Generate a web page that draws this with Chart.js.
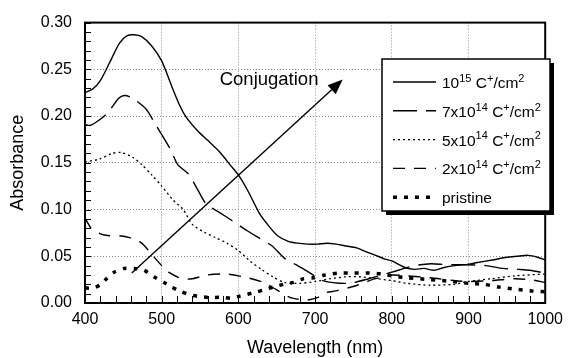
<!DOCTYPE html>
<html>
<head>
<meta charset="utf-8">
<script src="https://cdn.jsdelivr.net/npm/chart.js@4.4.1/dist/chart.umd.min.js"></script>
<style>
  html, body { margin: 0; padding: 0; background: #fff; }
</style>
</head>
<body>
<canvas id="absChart" width="570" height="358"></canvas>
<script>
// absorbance spectra, values
var wl15 = [400, 410, 420, 432, 445, 455, 464, 474, 487, 500, 513, 522, 531, 547, 560, 575, 590, 600, 613, 628, 640, 651, 665, 677, 690, 703, 715, 728, 740, 754, 766, 779, 791, 800, 817, 830, 842, 855, 868, 882, 897, 910, 931, 950, 963, 978, 990, 1000];
var abs15 = [0.225, 0.229, 0.238, 0.257, 0.278, 0.286, 0.287, 0.285, 0.275, 0.259, 0.232, 0.214, 0.200, 0.184, 0.174, 0.162, 0.147, 0.137, 0.119, 0.095, 0.082, 0.072, 0.066, 0.064, 0.063, 0.063, 0.064, 0.063, 0.061, 0.059, 0.055, 0.051, 0.047, 0.045, 0.038, 0.036, 0.037, 0.035, 0.038, 0.040, 0.041, 0.043, 0.046, 0.049, 0.050, 0.051, 0.049, 0.046];

var wl7 = [400, 407, 419, 430, 444, 451, 460, 479, 492, 511, 521, 535, 541, 547, 558, 575, 592, 612, 628, 644, 660, 675, 688, 710, 743, 770, 800, 830, 851, 872, 897, 923, 945, 965, 980, 1000];
var abs7 = [0.191, 0.190, 0.196, 0.204, 0.219, 0.222, 0.220, 0.208, 0.191, 0.165, 0.148, 0.138, 0.130, 0.121, 0.106, 0.097, 0.088, 0.077, 0.069, 0.061, 0.048, 0.041, 0.035, 0.024, 0.021, 0.026, 0.033, 0.040, 0.042, 0.041, 0.041, 0.040, 0.037, 0.036, 0.035, 0.032];

var wl5 = [400, 419, 435, 447, 462, 474, 487, 500, 515, 528, 540, 555, 570, 585, 600, 615, 630, 645, 660, 680, 700, 720, 740, 760, 780, 800, 820, 850, 880, 900, 930, 960, 1000];
var abs5 = [0.151, 0.154, 0.160, 0.161, 0.156, 0.148, 0.137, 0.125, 0.110, 0.100, 0.084, 0.076, 0.070, 0.064, 0.056, 0.045, 0.036, 0.028, 0.022, 0.021, 0.023, 0.026, 0.028, 0.028, 0.026, 0.024, 0.021, 0.019, 0.020, 0.023, 0.026, 0.029, 0.031];

var wl2 = [400, 408, 420, 432, 445, 458, 474, 485, 500, 509, 526, 540, 560, 585, 612, 633, 650, 667, 678, 688, 704, 714, 727, 742, 755, 765, 778, 790, 800, 820, 850, 880, 900, 930, 960, 980, 1000];
var abs2 = [0.091, 0.080, 0.074, 0.072, 0.072, 0.070, 0.064, 0.054, 0.040, 0.033, 0.026, 0.026, 0.030, 0.031, 0.027, 0.022, 0.014, 0.006, 0.004, 0.003, 0.006, 0.011, 0.013, 0.016, 0.019, 0.022, 0.026, 0.028, 0.030, 0.029, 0.027, 0.024, 0.023, 0.024, 0.026, 0.025, 0.022];

var wlP = [400, 410, 419, 428, 438, 451, 464, 477, 490, 503, 513, 526, 541, 560, 580, 590, 600, 620, 633, 645, 659, 672, 685, 698, 713, 730, 750, 770, 790, 800, 820, 850, 880, 900, 920, 940, 960, 980, 1000];
var absP = [0.016, 0.016, 0.019, 0.026, 0.033, 0.037, 0.037, 0.035, 0.028, 0.022, 0.017, 0.012, 0.008, 0.006, 0.006, 0.005, 0.007, 0.011, 0.014, 0.017, 0.020, 0.022, 0.026, 0.027, 0.030, 0.032, 0.032, 0.032, 0.031, 0.029, 0.027, 0.025, 0.023, 0.021, 0.020, 0.017, 0.015, 0.013, 0.012];

var seriesLabels = ['10^{15} C^{+}/cm^{2}', '7x10^{14} C^{+}/cm^{2}', '5x10^{14} C^{+}/cm^{2}', '2x10^{14} C^{+}/cm^{2}', 'pristine'];
var xTicks = [400, 500, 600, 700, 800, 900, 1000];
var yTicks = [0.00, 0.05, 0.10, 0.15, 0.20, 0.25, 0.30];

// annotation arrow, in data units (nm, absorbance)
var arrowFrom = [461, 0.032];
var arrowTo = [736, 0.239];
var arrowText = 'Conjugation';
var arrowTextAt = [640, 0.233];

var FONT = '"Liberation Sans", Arial, sans-serif';

function pts(xs, ys) {
    return xs.map(function (v, i) { return { x: v, y: ys[i] }; });
}

// draws "10^{15} C^{+}" style text with raised small parts
function drawRich(ctx, str, x, y, size) {
    var parts = str.split(/\^\{([^}]*)\}/);
    var cx = x;
    for (var i = 0; i < parts.length; i++) {
        if (!parts[i]) continue;
        var sup = i % 2 === 1;
        ctx.font = (sup ? Math.round(size * 0.68) : size) + 'px ' + FONT;
        ctx.fillText(parts[i], cx, sup ? y - size * 0.4 : y);
        cx += ctx.measureText(parts[i]).width;
    }
}

var frameTicks = {
    id: 'frameTicks',
    afterDatasetsDraw: function (chart) {
        var ctx = chart.ctx, a = chart.chartArea;
        var x = chart.scales.x, y = chart.scales.y;
        ctx.save();
        ctx.strokeStyle = '#000';
        ctx.lineWidth = 1;
        ctx.beginPath();
        for (var v = 400; v <= 1000; v += 20) {
            var px = Math.round(x.getPixelForValue(v)) + 0.5;
            ctx.moveTo(px, a.bottom);
            ctx.lineTo(px, a.bottom - 7);
        }
        for (var k = 0; k <= 30; k++) {
            var py = Math.round(y.getPixelForValue(k / 100)) + 0.5;
            ctx.moveTo(a.left, py);
            ctx.lineTo(a.left + 6, py);
        }
        ctx.stroke();
        ctx.lineWidth = 2;
        ctx.strokeRect(a.left, a.top, a.right - a.left, a.bottom - a.top);

        // arrow
        var x0 = x.getPixelForValue(arrowFrom[0]), y0 = y.getPixelForValue(arrowFrom[1]);
        var x1 = x.getPixelForValue(arrowTo[0]), y1 = y.getPixelForValue(arrowTo[1]);
        var ang = Math.atan2(y1 - y0, x1 - x0);
        var hl = 15, hw = 6;
        ctx.lineWidth = 1.4;
        ctx.beginPath();
        ctx.moveTo(x0, y0);
        ctx.lineTo(x1 - Math.cos(ang) * hl, y1 - Math.sin(ang) * hl);
        ctx.stroke();
        ctx.beginPath();
        ctx.moveTo(x1, y1);
        ctx.lineTo(x1 - Math.cos(ang) * hl - Math.sin(ang) * hw, y1 - Math.sin(ang) * hl + Math.cos(ang) * hw);
        ctx.lineTo(x1 - Math.cos(ang) * hl + Math.sin(ang) * hw, y1 - Math.sin(ang) * hl - Math.cos(ang) * hw);
        ctx.closePath();
        ctx.fillStyle = '#000';
        ctx.fill();

        ctx.font = '18.5px ' + FONT;
        ctx.textAlign = 'center';
        ctx.textBaseline = 'alphabetic';
        ctx.fillText(arrowText, x.getPixelForValue(arrowTextAt[0]), y.getPixelForValue(arrowTextAt[1]));
        ctx.restore();
    }
};

var boxLegend = {
    id: 'boxLegend',
    afterDraw: function (chart) {
        var ctx = chart.ctx;
        var bx = 382, by = 59, bw = 168, bh = 152;
        ctx.save();
        ctx.fillStyle = '#000';
        ctx.fillRect(bx + 4, by + 4, bw, bh);
        ctx.fillStyle = '#fff';
        ctx.fillRect(bx, by, bw, bh);
        ctx.strokeStyle = '#000';
        ctx.lineWidth = 1.5;
        ctx.strokeRect(bx, by, bw, bh);
        chart.data.datasets.forEach(function (ds, i) {
            var cy = by + 23 + i * 28.8;
            ctx.strokeStyle = ds.borderColor;
            ctx.lineWidth = ds.borderWidth;
            ctx.setLineDash(ds.borderDash || []);
            ctx.beginPath();
            ctx.moveTo(393, cy);
            ctx.lineTo(436, cy);
            ctx.stroke();
            ctx.setLineDash([]);
            ctx.fillStyle = '#000';
            ctx.textAlign = 'left';
            ctx.textBaseline = 'alphabetic';
            drawRich(ctx, ds.label, 442, cy + 6, 15.5);
        });
        ctx.restore();
    }
};

function lineSet(label, data, width, dash) {
    return {
        label: label,
        data: data,
        borderColor: '#000',
        borderWidth: width,
        borderDash: dash,
        borderCapStyle: 'butt',
        pointRadius: 0,
        tension: 0.25,
        fill: false
    };
}

document.addEventListener('DOMContentLoaded', function () {
    var ctx = document.getElementById('absChart').getContext('2d');
    new Chart(ctx, {
        type: 'line',
        data: {
            datasets: [
                lineSet(seriesLabels[0], pts(wl15, abs15), 1.4, []),
                lineSet(seriesLabels[1], pts(wl7, abs7), 1.4, [24, 9]),
                lineSet(seriesLabels[2], pts(wl5, abs5), 1.3, [2, 3]),
                lineSet(seriesLabels[3], pts(wl2, abs2), 1.4, [12, 9]),
                lineSet(seriesLabels[4], pts(wlP, absP), 3.5, [4, 7])
            ]
        },
        options: {
            responsive: false,
            animation: false,
            layout: { padding: { left: 0, right: 17, top: 19, bottom: 0 } },
            plugins: { legend: { display: false }, tooltip: { enabled: false } },
            scales: {
                x: {
                    type: 'linear',
                    min: 400,
                    max: 1000,
                    afterBuildTicks: function (s) { s.ticks = xTicks.map(function (v) { return { value: v }; }); },
                    afterFit: function (s) { s.height = 55; },
                    ticks: { color: '#000', font: { family: FONT, size: 16 }, padding: 7, maxRotation: 0, callback: function (v) { return String(v); } },
                    grid: { color: '#8c8c8c', lineWidth: 1, drawTicks: false },
                    border: { display: false, dash: [1, 2] },
                    title: { display: true, text: 'Wavelength (nm)', color: '#000', font: { family: FONT, size: 18, lineHeight: 1.1 }, padding: { top: 0, bottom: 0 } }
                },
                y: {
                    min: 0,
                    max: 0.3,
                    afterBuildTicks: function (s) { s.ticks = yTicks.map(function (v) { return { value: v }; }); },
                    afterFit: function (s) { s.width = 85; },
                    ticks: { color: '#000', font: { family: FONT, size: 16 }, padding: 13, callback: function (v) { return v.toFixed(2); } },
                    grid: { color: '#8c8c8c', lineWidth: 1, drawTicks: false },
                    border: { display: false, dash: [1, 2] },
                    title: { display: true, text: 'Absorbance', color: '#000', font: { family: FONT, size: 18 }, padding: { top: 7, bottom: 0 } }
                }
            }
        },
        plugins: [frameTicks, boxLegend]
    });
});
</script>
</body>
</html>
